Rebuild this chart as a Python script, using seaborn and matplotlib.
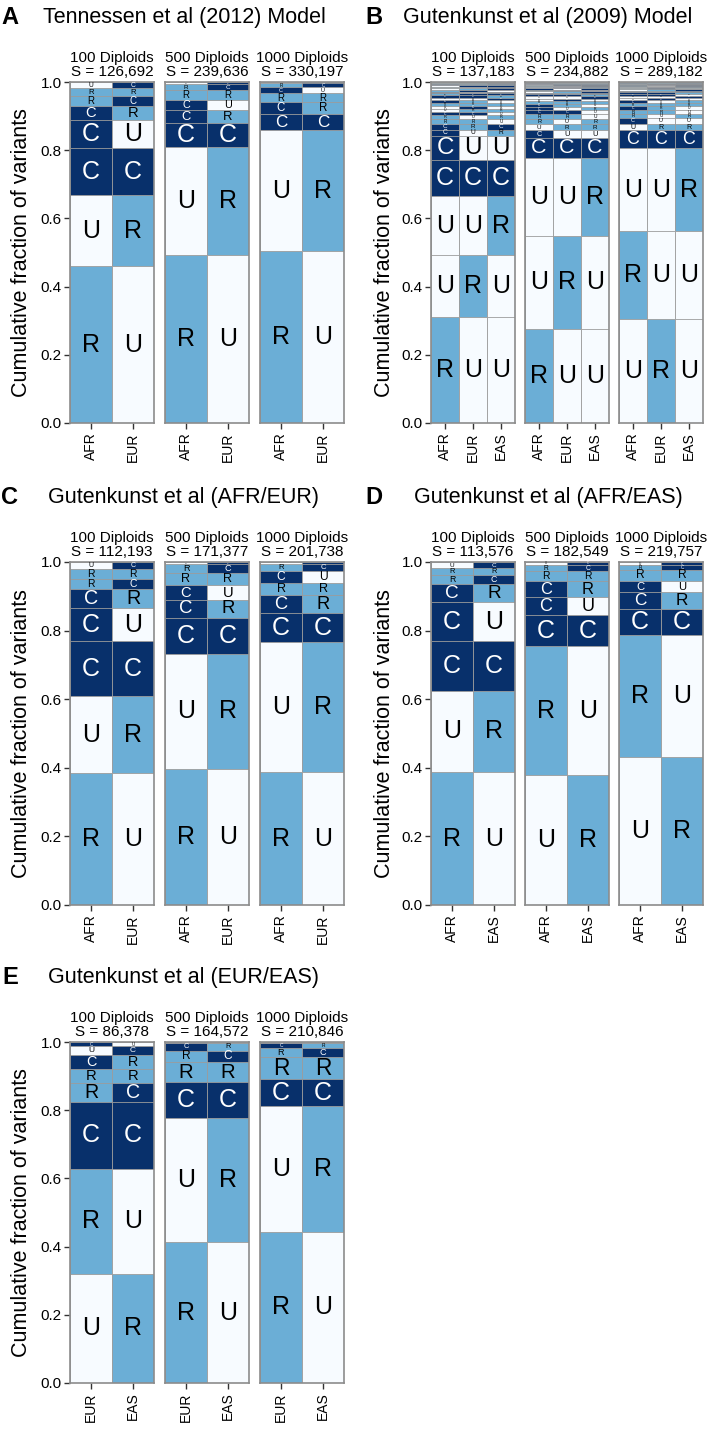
import numpy as np
import matplotlib
matplotlib.use("Agg")
import matplotlib.pyplot as plt
import seaborn as sns

# --- data -------------------------------------------------------------
SAMPLE_SIZES = ["100 Diploids", "500 Diploids", "1000 Diploids"]

# A: Tennessen et al (2012), AFR / EUR
A_pops = ["AFR", "EUR"]
A_S = ["126,692", "239,636", "330,197"]
A_100_cls = ["RU", "UR", "CC", "CU", "CR", "RC", "RR", "UC"]
A_100_frac = [0.459, 0.209, 0.137, 0.084, 0.042, 0.028, 0.022, 0.019]
A_500_cls = ["RU", "UR", "CC", "CR", "CU", "RR", "RC", "UC"]
A_500_frac = [0.494, 0.314, 0.072, 0.037, 0.031, 0.028, 0.018, 0.006]
A_1000_cls = ["RU", "UR", "CC", "CR", "RR", "CU", "RC", "UC"]
A_1000_frac = [0.503, 0.355, 0.049, 0.033, 0.028, 0.016, 0.013, 0.003]

# B: Gutenkunst et al (2009), AFR / EUR / EAS
B_pops = ["AFR", "EUR", "EAS"]
B_S = ["137,183", "234,882", "289,182"]
B_100_cls = ["RUU", "URU", "UUR", "CCC", "CUU", "CUR", "CRC", "RRU", "RUR",
             "CCU", "URR", "UCU", "RRR", "CRU", "UUC", "CCR", "RCC", "CUC",
             "RCU", "URC", "RUC", "UCC", "CRR", "RRC", "UCR", "RCR"]
B_100_frac = [0.311, 0.181, 0.173, 0.107, 0.069, 0.019, 0.018, 0.013, 0.011,
              0.010, 0.010, 0.009, 0.008, 0.008, 0.007, 0.007, 0.006, 0.005,
              0.005, 0.005, 0.004, 0.004, 0.003, 0.003, 0.002, 0.002]
B_500_cls = ["RUU", "URU", "UUR", "CCC", "CUU", "URR", "RUR", "RRU", "CCU",
             "CUR", "CRU", "RRR", "UCU", "UUC", "CCR", "CRC", "URC", "RCU",
             "CUC", "UCR", "RUC", "RCC", "UCC", "CRR", "RRC", "RCR"]
B_500_frac = [0.277, 0.271, 0.228, 0.061, 0.021, 0.018, 0.016, 0.014, 0.011,
              0.010, 0.009, 0.008, 0.007, 0.007, 0.006, 0.005, 0.004, 0.004,
              0.004, 0.003, 0.003, 0.003, 0.003, 0.003, 0.002, 0.002]
B_1000_cls = ["URU", "RUU", "UUR", "CCC", "URR", "CUU", "RUR", "RRU", "CRU",
              "RRR", "CUR", "UCU", "UUC", "CCU", "CCR", "CRC", "URC", "RCU",
              "UCR", "RUC", "CUC", "RCC", "UCC", "CRR", "RRC", "RCR"]
B_1000_frac = [0.304, 0.258, 0.245, 0.051, 0.020, 0.016, 0.013, 0.012, 0.010,
               0.009, 0.008, 0.007, 0.007, 0.006, 0.005, 0.004, 0.004, 0.003,
               0.003, 0.003, 0.003, 0.002, 0.002, 0.002, 0.002, 0.001]

# C: Gutenkunst et al, AFR / EUR
C_pops = ["AFR", "EUR"]
C_S = ["112,193", "171,377", "201,738"]
C_100_cls = ["RU", "UR", "CC", "CU", "CR", "RC", "RR", "UC"]
C_100_frac = [0.385, 0.223, 0.161, 0.097, 0.056, 0.029, 0.029, 0.020]
C_500_cls = ["RU", "UR", "CC", "CR", "CU", "RR", "RC", "UC"]
C_500_frac = [0.397, 0.336, 0.104, 0.053, 0.042, 0.036, 0.026, 0.006]
C_1000_cls = ["RU", "UR", "CC", "CR", "RR", "CU", "RC", "UC"]
C_1000_frac = [0.387, 0.379, 0.085, 0.052, 0.036, 0.034, 0.022, 0.005]

# D: Gutenkunst et al, AFR / EAS
D_pops = ["AFR", "EAS"]
D_S = ["113,576", "182,549", "219,757"]
D_100_cls = ["RU", "UR", "CC", "CU", "CR", "RC", "RR", "UC"]
D_100_frac = [0.387, 0.238, 0.144, 0.113, 0.054, 0.025, 0.021, 0.018]
D_500_cls = ["UR", "RU", "CC", "CU", "CR", "RR", "RC", "UC"]
D_500_frac = [0.378, 0.376, 0.092, 0.051, 0.047, 0.029, 0.019, 0.008]
D_1000_cls = ["UR", "RU", "CC", "CR", "CU", "RR", "RC", "UC"]
D_1000_frac = [0.431, 0.357, 0.075, 0.049, 0.032, 0.034, 0.013, 0.009]

# E: Gutenkunst et al, EUR / EAS
E_pops = ["EUR", "EAS"]
E_S = ["86,378", "164,572", "210,846"]
E_100_cls = ["UR", "RU", "CC", "RC", "RR", "CR", "UC", "CU"]
E_100_frac = [0.321, 0.308, 0.195, 0.056, 0.042, 0.041, 0.024, 0.013]
E_500_cls = ["RU", "UR", "CC", "RR", "RC", "CR", "UC", "CU"]
E_500_frac = [0.413, 0.364, 0.106, 0.058, 0.034, 0.021, 0.002, 0.002]
E_1000_cls = ["RU", "UR", "CC", "RR", "RC", "CR", "UC", "CU"]
E_1000_frac = [0.443, 0.368, 0.080, 0.065, 0.026, 0.014, 0.002, 0.002]

CLASS_COLORS = {"U": "#f7fbff", "R": "#6baed6", "C": "#08306b"}
EDGE = "#9c9c9c"

# --- layout (pixels in a 720x1440 figure) -----------------------------
FIG_W, FIG_H = 720, 1440
LEFT_X = [70, 165, 260]
RIGHT_X = [431, 525, 619]
AX_W = 84
ROW_Y = [(82, 423), (562, 905), (1042, 1383)]

panels = [
    ("A", "Tennessen et al (2012) Model", A_pops, A_S,
     [(A_100_cls, A_100_frac), (A_500_cls, A_500_frac), (A_1000_cls, A_1000_frac)], LEFT_X, ROW_Y[0]),
    ("B", "Gutenkunst et al (2009) Model", B_pops, B_S,
     [(B_100_cls, B_100_frac), (B_500_cls, B_500_frac), (B_1000_cls, B_1000_frac)], RIGHT_X, ROW_Y[0]),
    ("C", "Gutenkunst et al (AFR/EUR)", C_pops, C_S,
     [(C_100_cls, C_100_frac), (C_500_cls, C_500_frac), (C_1000_cls, C_1000_frac)], LEFT_X, ROW_Y[1]),
    ("D", "Gutenkunst et al (AFR/EAS)", D_pops, D_S,
     [(D_100_cls, D_100_frac), (D_500_cls, D_500_frac), (D_1000_cls, D_1000_frac)], RIGHT_X, ROW_Y[1]),
    ("E", "Gutenkunst et al (EUR/EAS)", E_pops, E_S,
     [(E_100_cls, E_100_frac), (E_500_cls, E_500_frac), (E_1000_cls, E_1000_frac)], LEFT_X, ROW_Y[2]),
]

sns.set_style("ticks")
plt.rcParams["font.family"] = ["Liberation Sans", "DejaVu Sans"]
plt.rcParams["text.color"] = "black"
plt.rcParams["axes.labelcolor"] = "black"
plt.rcParams["xtick.color"] = "black"
plt.rcParams["ytick.color"] = "black"


def px_axes(fig, x, y_top, y_bot, w):
    return fig.add_axes([x / FIG_W, 1 - y_bot / FIG_H, w / FIG_W, (y_bot - y_top) / FIG_H])


def draw_stack(ax, pops, classes, fracs, ax_px):
    fracs = np.asarray(fracs)
    tops = np.cumsum(fracs)
    bottoms = tops - fracs
    # tallest cumulative bar first, shorter ones drawn on top of it
    for k in range(len(classes) - 1, -1, -1):
        pal = {p: CLASS_COLORS[classes[k][i]] for i, p in enumerate(pops)}
        sns.barplot(x=pops, y=[tops[k]] * len(pops), hue=pops, order=pops,
                    hue_order=pops, palette=pal, width=1, saturation=1,
                    edgecolor=EDGE, linewidth=0.6, legend=False,
                    errorbar=None, ax=ax)
    # class letters, sized to the segment height
    for k, cls in enumerate(classes):
        fs = min(18, 0.74 * fracs[k] * ax_px)
        if fs < 1.5:
            continue
        mid = (bottoms[k] + tops[k]) / 2
        for i, letter in enumerate(cls):
            ax.text(i, mid, letter, ha="center", va="center", fontsize=fs,
                    color="white" if letter == "C" else "black")


fig = plt.figure(figsize=(FIG_W / 100, FIG_H / 100), dpi=100)

for letter, title, pops, s_vals, subs, xs, (y_top, y_bot) in panels:
    ax_px = y_bot - y_top
    for j, (classes, fracs) in enumerate(subs):
        ax = px_axes(fig, xs[j], y_top, y_bot, AX_W)
        draw_stack(ax, pops, classes, fracs, ax_px)
        ax.set_ylim(0, 1)
        ax.set_xlim(-0.5, len(pops) - 0.5)
        ax.set_xlabel("")
        ax.set_ylabel("")
        for sp in ax.spines.values():
            sp.set_visible(True)
            sp.set_color("#8c8c8c")
            sp.set_linewidth(1.2)
        ax.tick_params(axis="x", rotation=90, labelsize=10, length=4,
                       width=1, color="#333333", pad=3)
        if j == 0:
            ax.set_yticks([0, 0.2, 0.4, 0.6, 0.8, 1.0])
            ax.set_yticklabels(["0.0", "0.2", "0.4", "0.6", "0.8", "1.0"])
            ax.tick_params(axis="y", labelsize=11, length=4, width=1,
                           color="#333333", pad=2)
        else:
            ax.set_yticks([])
        ax.set_title(f"{SAMPLE_SIZES[j]}\nS = {s_vals[j]}", fontsize=11,
                     pad=4, linespacing=1.0, color="black")

    left_col = xs[0] < 300
    ylab_x = 22 if left_col else 384
    fig.text(ylab_x / FIG_W, 1 - (y_top + y_bot) / 2 / FIG_H,
             "Cumulative fraction of variants", rotation=90,
             ha="center", va="center", fontsize=15.5)
    let_x = 10 if left_col else 374
    title_x = 184 if left_col else 548
    head_y = y_top - 64
    fig.text(let_x / FIG_W, 1 - head_y / FIG_H, letter, fontsize=17,
             fontweight="bold", ha="center", va="center")
    fig.text(title_x / FIG_W, 1 - head_y / FIG_H, title, fontsize=15.5,
             ha="center", va="center")

fig.savefig("out.png", dpi=100)
plt.close(fig)
